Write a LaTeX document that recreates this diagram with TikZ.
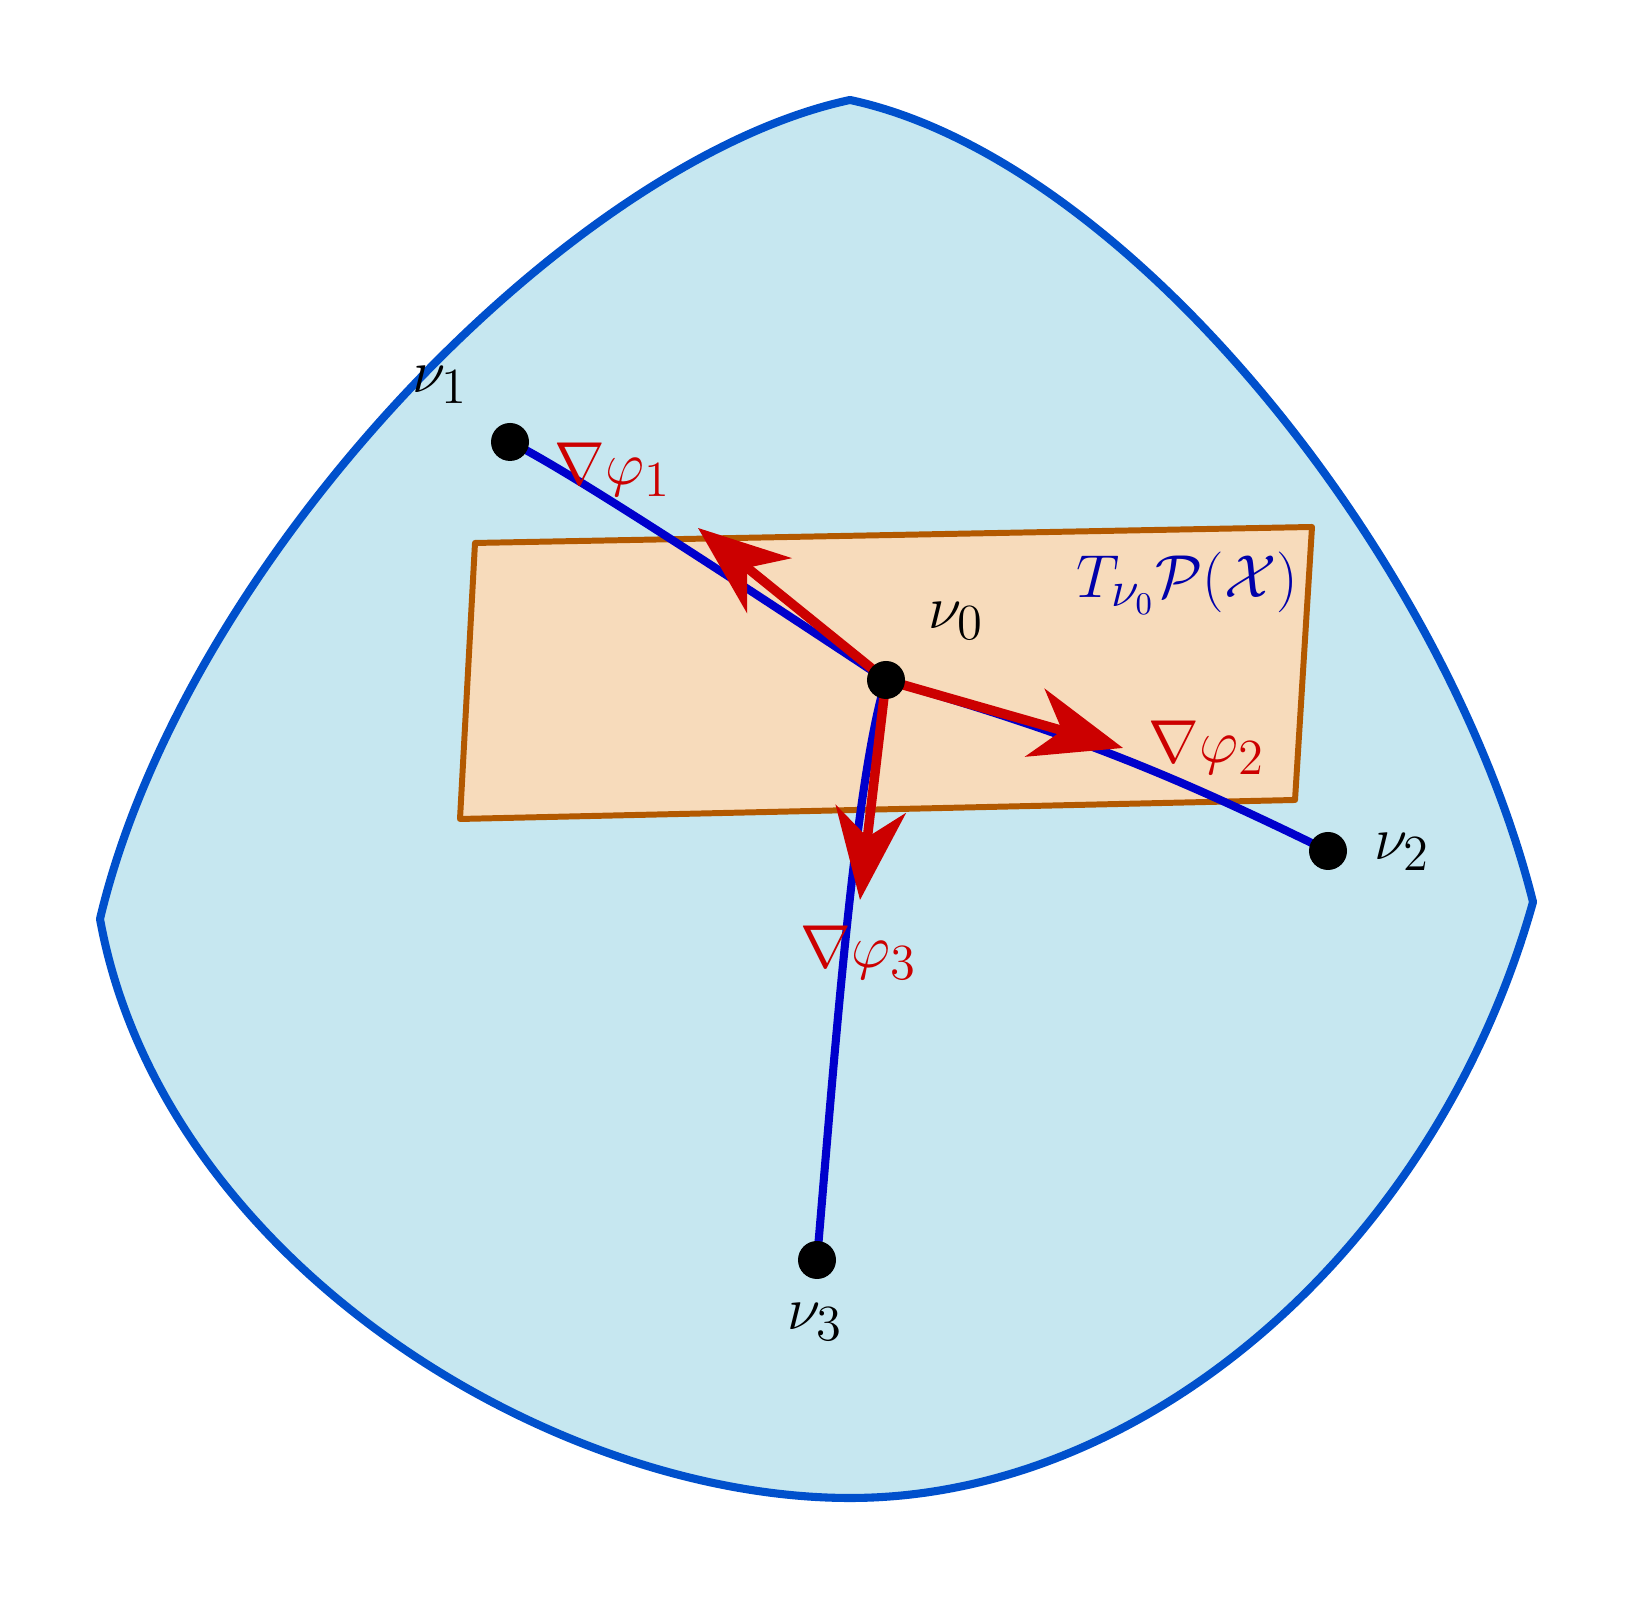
\documentclass[tikz,border=0pt]{standalone}
\usetikzlibrary{arrows.meta}
\definecolor{manifold}{RGB}{198,231,240}
\definecolor{manifoldedge}{RGB}{0,80,204}
\definecolor{tangent}{RGB}{247,219,187}
\definecolor{tangentedge}{RGB}{179,89,0}
\definecolor{geodesic}{RGB}{0,0,204}
\definecolor{grad}{RGB}{204,0,0}
\definecolor{planelabel}{RGB}{0,0,170}
\tikzset{
  dot/.style={circle, fill=black, inner sep=0pt, minimum size=0.38cm},
  geo/.style={geodesic, line width=2.3pt},
  gradarrow/.style={grad, line width=2.7pt, -{Stealth[length=26pt,width=20pt,inset=8pt]}},
  lbl/.style={font=\fontsize{19}{23}\selectfont},
}
\begin{document}
\begin{tikzpicture}
\useasboundingbox (0,0) rectangle (16.34,16);

% manifold
\draw[manifoldedge, fill=manifold, line width=2.3pt, line join=round]
  (8.50,15.00) .. controls (11.30,14.40) and (14.48,10.38) .. (15.33,6.98)
  .. controls (14.38,3.58) and (11.50,1.02) .. (8.50,1.02)
  .. controls (5.50,1.02) and (1.62,3.40) .. (1.00,6.81)
  .. controls (1.85,10.40) and (5.70,14.40) .. cycle;

% tangent plane
\draw[tangentedge, fill=tangent, line width=1.7pt, line join=round]
  (4.75,10.57) -- (13.12,10.73) -- (12.95,8.00) -- (4.60,7.81) -- cycle;
\node[lbl, text=planelabel] (plane) at (11.87,10.17) {$T_{\nu_0}\mathcal{P}(\mathcal{X})$};

\coordinate (p0) at (8.86,9.20);
\coordinate (p1) at (5.10,11.58);
\coordinate (p2) at (13.28,7.49);
\coordinate (p3) at (8.17,3.40);
\coordinate (g1) at (6.98,10.72);
\coordinate (g2) at (11.23,8.52);
\coordinate (g3) at (8.60,7.00);

% geodesics
\draw[geo] (p1) .. controls (5.60,11.35) and (7.50,10.10) .. (p0);
\draw[geo] (p0) to[bend left=5] (p2);
\draw[geo] (p0) .. controls (8.55,8.20) and (8.35,5.50) .. (p3);

% gradients
\foreach \g in {g1,g2,g3}
  \draw[gradarrow] (p0) -- (\g);

\foreach \n in {0,...,3}
  \node[dot] (v\n) at (p\n) {};

\node[lbl] (lv0) at (9.56,9.79) {$\nu_0$};
\node[lbl] (lv1) at (4.40,12.15) {$\nu_1$};
\node[lbl] (lv2) at (14.02,7.48) {$\nu_2$};
\node[lbl] (lv3) at (8.15,2.78) {$\nu_3$};

\node[lbl, text=grad] (lg1) at (6.13,11.30) {$\nabla\varphi_1$};
\node[lbl, text=grad] (lg2) at (12.07,8.52) {$\nabla\varphi_2$};
\node[lbl, text=grad] (lg3) at (8.59,6.47) {$\nabla\varphi_3$};

\end{tikzpicture}
\end{document}
